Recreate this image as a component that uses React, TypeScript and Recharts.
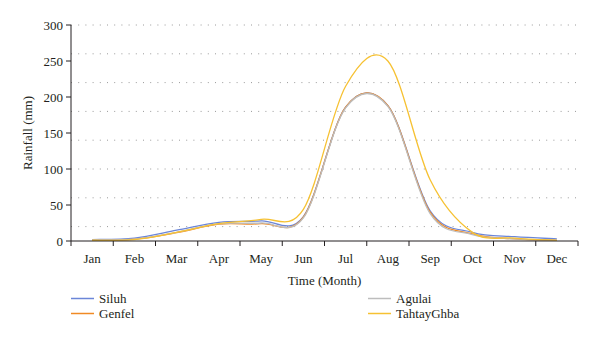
import React from 'react';
import { LineChart, Line, XAxis, YAxis, CartesianGrid, Label } from 'recharts';

const months = ['Jan', 'Feb', 'Mar', 'Apr', 'May', 'Jun', 'Jul', 'Aug', 'Sep', 'Oct', 'Nov', 'Dec'];
const siluh = [2, 4, 15, 26, 28, 34, 186, 188, 42, 12, 6, 3];
const genfel = [1, 2.5, 11.5, 23.5, 24, 33, 186, 188, 40, 10, 3, 1];
const agulai = [1.5, 2.5, 12, 24, 25, 32, 185, 187, 38, 9, 3, 1];
const tahtayGhba = [1, 2, 12, 24, 30, 44, 215, 250, 85, 12, 4, 1];
const yTicks = [0, 50, 100, 150, 200, 250, 300];

const series = [
  { key: 'Siluh', values: siluh, color: '#6b86d8' },
  { key: 'Genfel', values: genfel, color: '#f08a24' },
  { key: 'Agulai', values: agulai, color: '#bdbdbd' },
  { key: 'TahtayGhba', values: tahtayGhba, color: '#f6c132' },
];

const data = months.map((m, i) => {
  const row: Record<string, number | string> = { month: m, x: i + 0.5 };
  series.forEach((s) => {
    row[s.key] = s.values[i];
  });
  return row;
});

const W = 592;
const H = 335;
const margin = { top: 17, right: 22, left: 13, bottom: 52 };
const yAxisW = 50;
const plotW = W - margin.left - margin.right - yAxisW;
const band = plotW / months.length;
const font = '"Liberation Serif", "Times New Roman", serif';
const ink = '#231f20';

const gridLines = Array.from({ length: 30 }, (_, i) => (i + 1) * 10);

// smooth curve through the points (Catmull-Rom), like the spreadsheet's smoothed line
const catmullRom = (context: any) => {
  let pts: number[][] = [];
  return {
    areaStart() {},
    areaEnd() {},
    lineStart() {
      pts = [];
    },
    lineEnd() {
      if (!pts.length) return;
      context.moveTo(pts[0][0], pts[0][1]);
      for (let i = 0; i < pts.length - 1; i++) {
        const p0 = pts[i - 1] || pts[i];
        const p1 = pts[i];
        const p2 = pts[i + 1];
        const p3 = pts[i + 2] || p2;
        context.bezierCurveTo(
          p1[0] + (p2[0] - p0[0]) / 6,
          p1[1] + (p2[1] - p0[1]) / 6,
          p2[0] - (p3[0] - p1[0]) / 6,
          p2[1] - (p3[1] - p1[1]) / 6,
          p2[0],
          p2[1]
        );
      }
    },
    point(x: number, y: number) {
      pts.push([+x, +y]);
    },
  };
};

function MonthTick(props: any) {
  const { x, y, payload } = props;
  const idx = payload.value;
  if (idx >= months.length) return null;
  return (
    <text x={x + band / 2} y={y} dy="0.71em" textAnchor="middle" fontSize={13} fontFamily={font} fill={ink}>
      {months[idx]}
    </text>
  );
}

function LegendBox() {
  const cols = [[series[0], series[1]], [series[2], series[3]]];
  const lefts = [63, 360];
  return (
    <>
      {cols.map((col, c) =>
        col.map((s, r) => (
          <div
            key={s.key}
            style={{
              position: 'absolute',
              left: lefts[c],
              top: 283 + r * 15,
              height: 15,
              display: 'flex',
              alignItems: 'center',
              fontFamily: font,
              fontSize: 13,
              color: ink,
            }}
          >
            <svg width={28} height={15} style={{ display: 'block' }}>
              <line x1={0} x2={23} y1={7.5} y2={7.5} stroke={s.color} strokeWidth={1.5} />
            </svg>
            {s.key}
          </div>
        ))
      )}
    </>
  );
}

export default function App() {
  return (
    <div style={{ position: 'relative', width: W, height: H }}>
      <LineChart width={W} height={H} data={data} margin={margin}>
        <CartesianGrid
          vertical={false}
          horizontalValues={gridLines}
          stroke="#9a9a9a"
          strokeDasharray="1 6.2"
        />
        <XAxis
          dataKey="x"
          type="number"
          domain={[0, 12]}
          ticks={[0, 1, 2, 3, 4, 5, 6, 7, 8, 9, 10, 11, 12]}
          interval={0}
          height={50}
          tickSize={5}
          tickMargin={8}
          stroke={ink}
          tick={<MonthTick />}
        >
          <Label value="Time (Month)" position="insideBottom" offset={6} fontSize={13} fontFamily={font} fill={ink} />
        </XAxis>
        <YAxis
          domain={[0, 300]}
          ticks={yTicks}
          width={yAxisW}
          tickSize={5}
          tickMargin={3}
          stroke={ink}
          tick={{ fontSize: 13, fontFamily: font, fill: ink }}
        >
          <Label
            value="Rainfall (mm)"
            angle={-90}
            position="insideLeft"
            offset={6}
            fontSize={13}
            fontFamily={font}
            fill={ink}
            style={{ textAnchor: 'middle' }}
          />
        </YAxis>
        {series.map((s) => (
          <Line
            key={s.key}
            type={catmullRom as any}
            dataKey={s.key}
            stroke={s.color}
            strokeWidth={1.3}
            dot={false}
            isAnimationActive={false}
          />
        ))}
      </LineChart>
      <LegendBox />
    </div>
  );
}
